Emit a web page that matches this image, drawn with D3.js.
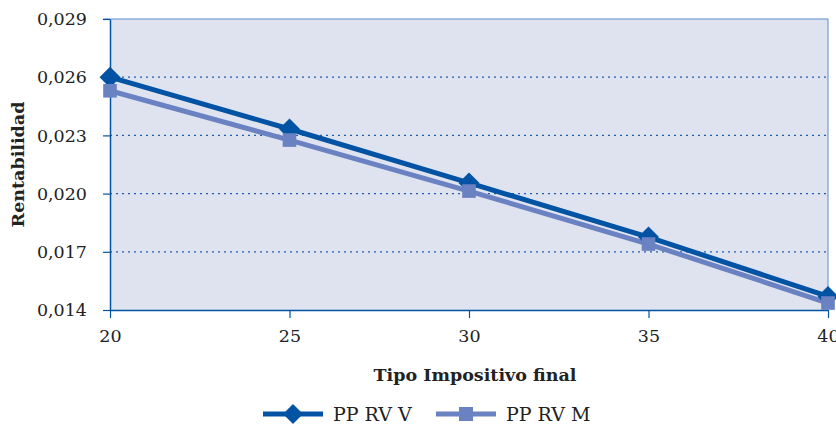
<!DOCTYPE html>
<html><head><meta charset="utf-8">
<script src="https://cdn.jsdelivr.net/npm/d3@7"></script>
<style>body{margin:0;background:#fff}svg{display:block}</style>
</head><body>
<script>
const categories = [20, 25, 30, 35, 40];
const seriesV = [0.0260, 0.02333, 0.02055, 0.01776, 0.01470];
const seriesM = [0.0253, 0.02276, 0.02013, 0.01740, 0.01436];
const seriesNames = ["PP RV V", "PP RV M"];
const yTicks = [0.014, 0.017, 0.020, 0.023, 0.026, 0.029];

const W = 836, H = 425;
const m = {l: 110, r: 8, t: 19, b: 115};
const svg = d3.select("body").append("svg").attr("width", W).attr("height", H);
const x = d3.scaleLinear().domain([20, 40]).range([m.l, W - m.r]);
const y = d3.scaleLinear().domain([0.014, 0.029]).range([H - m.b, m.t]);
const dark = "#0353a4", light = "#6b82c2";
const font = "'DejaVu Serif', serif";
const diamondPath = r => `M0,${-r}L${r},0L0,${r}L${-r},0Z`;

svg.append("rect").attr("x", x(20)).attr("y", y(0.029)).attr("width", x(40) - x(20)).attr("height", y(0.014) - y(0.029))
  .attr("fill", "#dfe3f0");
svg.append("path").attr("d", `M${x(20)-7},${y(0.029)}H${x(40)}V${y(0.014)}`).attr("fill", "none").attr("stroke", "#5a8ccc").attr("stroke-width", 1);
svg.append("g").selectAll("line").data(yTicks.filter(t => t > 0.014 && t < 0.029)).join("line")
  .attr("x1", x(20)).attr("x2", x(40)).attr("y1", d => y(d)).attr("y2", d => y(d))
  .attr("stroke", "#1f5fae").attr("stroke-width", 1.2).attr("stroke-dasharray", "2,4");

const fmt = d => d3.format(".3f")(d).replace(".", ",");
const ya = svg.append("g").attr("transform", `translate(${x(20)},0)`)
  .call(d3.axisLeft(y).tickValues(yTicks).tickSize(7).tickSizeOuter(0).tickPadding(16).tickFormat(fmt));
const xa = svg.append("g").attr("transform", `translate(0,${y(0.014)})`)
  .call(d3.axisBottom(x).tickValues(categories).tickSize(8).tickSizeOuter(0).tickPadding(12));
[ya, xa].forEach(a => {
  a.select(".domain").attr("stroke", "#0353a4").attr("stroke-width", 1.5);
  a.selectAll(".tick line").attr("stroke", "#0353a4").attr("stroke-width", 1.2);
  a.selectAll("text").attr("font-family", font).attr("font-size", 17.5).attr("fill", "#222");
});

const line = d3.line().x((d, i) => x(categories[i])).y(d => y(d));
svg.append("path").datum(seriesV).attr("d", line).attr("fill", "none").attr("stroke", dark).attr("stroke-width", 5);
svg.append("path").datum(seriesM).attr("d", line).attr("fill", "none").attr("stroke", light).attr("stroke-width", 5);
svg.append("g").selectAll("path").data(seriesV).join("path")
  .attr("transform", (d, i) => `translate(${x(categories[i])},${y(d)})`).attr("d", diamondPath(10.5)).attr("fill", dark);
svg.append("g").selectAll("rect").data(seriesM).join("rect")
  .attr("x", (d, i) => x(categories[i]) - 6.8).attr("y", d => y(d) - 6.8).attr("width", 13.6).attr("height", 13.6).attr("fill", light);

svg.append("text").attr("x", 475).attr("y", 381).attr("text-anchor", "middle").attr("font-family", font)
  .attr("font-weight", "bold").attr("font-size", 17.5).attr("fill", "#222").text("Tipo Impositivo final");
svg.append("text").attr("transform", `translate(24,${(y(0.014)+y(0.029))/2}) rotate(-90)`).attr("text-anchor", "middle")
  .attr("font-family", font).attr("font-weight", "bold").attr("font-size", 17.5).attr("fill", "#222").text("Rentabilidad");

const lg = svg.append("g");
const items = [{x: 263, c: dark, t: seriesNames[0], s: "d"}, {x: 436, c: light, t: seriesNames[1], s: "s"}];
items.forEach(it => {
  lg.append("line").attr("x1", it.x).attr("x2", it.x + 60).attr("y1", 414).attr("y2", 414).attr("stroke", it.c).attr("stroke-width", 5);
  if (it.s === "d") lg.append("path").attr("transform", `translate(${it.x+30},414)`).attr("d", diamondPath(10)).attr("fill", it.c);
  else lg.append("rect").attr("x", it.x + 23).attr("y", 407).attr("width", 14).attr("height", 14).attr("fill", it.c);
  lg.append("text").attr("x", it.x + 70).attr("y", 421).attr("font-family", font).attr("font-size", 19).attr("fill", "#222").text(it.t);
});
</script>
</body></html>
